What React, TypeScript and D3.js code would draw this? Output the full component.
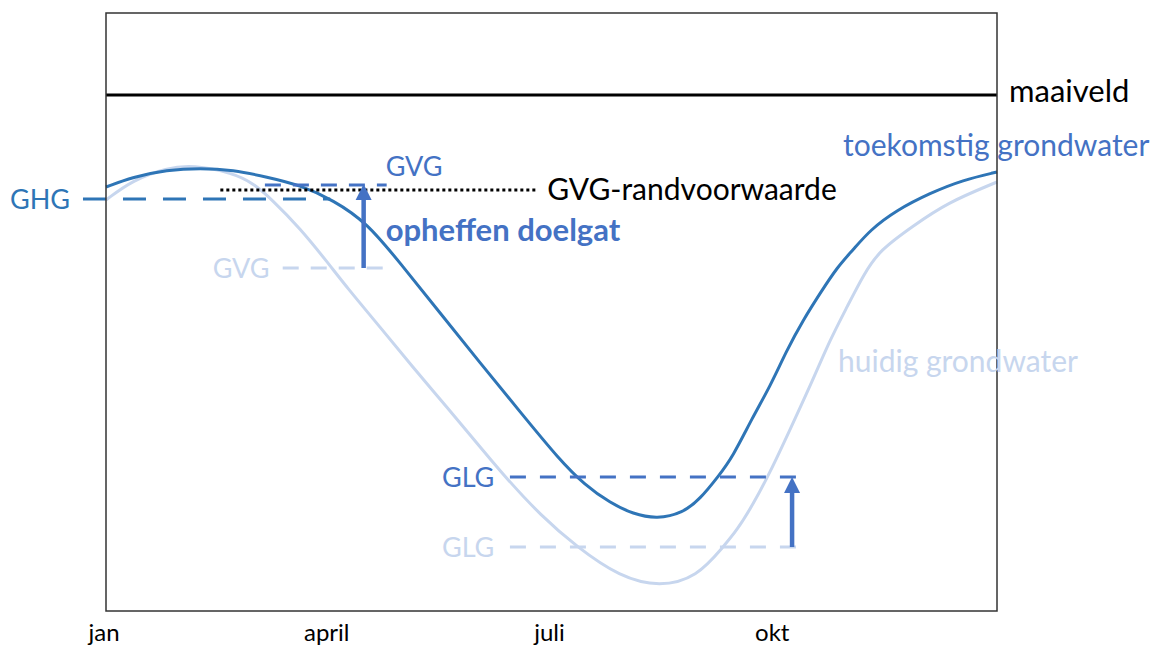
import React from "react";
import * as d3 from "d3";

// months since 1 jan (0..12); depth below maaiveld in schematic units (0 = maaiveld)
const monthTicks = ["jan", "april", "juli", "okt"];
const monthTickValues = [0, 3, 6, 9];

const futureMonths = [0, 0.36, 0.82, 1.27, 1.71, 2.17, 2.61, 3.06, 3.52, 3.96, 4.5, 5.04, 5.58, 6.11, 6.45, 6.79, 7.1, 7.42, 7.77, 8.0, 8.24, 8.44, 8.71, 8.94, 9.17, 9.39, 9.62, 9.85, 10.06, 10.29, 10.65, 11.1, 11.54, 12];
const futureDepth = [46, 41, 37.5, 36.5, 37.5, 41, 45, 52.5, 64, 84, 109, 134, 158.5, 182.5, 195, 204, 209.5, 212, 209, 202, 191, 181, 161, 146, 127.5, 112.5, 99, 86, 77.5, 67.5, 57.5, 49, 42.5, 38.5];

const currentMonths = [0, 0.36, 0.82, 1.17, 1.71, 1.98, 2.24, 2.61, 2.98, 3.25, 3.69, 4.13, 4.59, 5.04, 5.4, 5.85, 6.34, 6.92, 7.46, 7.96, 8.31, 8.5, 8.71, 8.94, 9.21, 9.52, 9.75, 9.98, 10.2, 10.42, 10.87, 11.32, 12];
const currentDepth = [52.5, 42.5, 36.5, 35, 39, 44, 52.5, 66.5, 83.5, 96.5, 116, 136, 156, 176, 192, 210, 226, 241, 246, 241, 226, 217.5, 205, 189, 167.5, 142.5, 122.5, 106, 90, 77.5, 65.5, 54, 43.5];

const maaiveldDepth = 0;
const ghg = { depth: 52, from: -0.31, to: 3.02 };
const gvgFuture = { depth: 45, from: 2.14, to: 3.78 };
const gvgCurrent = { depth: 86.5, from: 2.38, to: 3.78 };
const gvgBoundary = { depth: 47.5, from: 1.54, to: 5.82 };
const glgFuture = { depth: 191, from: 5.44, to: 9.48 };
const glgCurrent = { depth: 226, from: 5.44, to: 9.48 };
const arrowGvgMonth = 3.47;
const arrowGlgMonth = 9.24;

const DARK = "#2E75B6";
const MID = "#4472C4";
const LIGHT = "#C7D6EE";
const FONT = "Lato, 'Open Sans', sans-serif";

type Level = { depth: number; from: number; to: number };

export default function App() {
  const W = 1158, H = 646;
  const x = d3.scaleLinear().domain([0, 12]).range([106, 997]);
  const y = d3.scaleLinear().domain([-41, 258]).range([13, 611]);

  const line = d3
    .line<[number, number]>()
    .x((d) => x(d[0]))
    .y((d) => y(d[1]))
    .curve(d3.curveBasis);

  const future = line(futureMonths.map((m, i) => [m, futureDepth[i]]) as [number, number][]) || "";
  const current = line(currentMonths.map((m, i) => [m, currentDepth[i]]) as [number, number][]) || "";

  const hline = (lv: Level) => ({
    x1: x(lv.from),
    x2: x(lv.to),
    y1: y(lv.depth),
    y2: y(lv.depth),
  });

  const arrow = (m: number, fromDepth: number, toDepth: number, color: string) => {
    const ax = x(m);
    const y0 = y(fromDepth);
    const yt = y(toDepth);
    const headH = 16;
    const headW = 8;
    return (
      <g>
        <line x1={ax} x2={ax} y1={y0} y2={yt + headH - 1} stroke={color} strokeWidth={4.5} />
        <path d={`M${ax},${yt} L${ax - headW},${yt + headH} L${ax + headW},${yt + headH} Z`} fill={color} />
      </g>
    );
  };

  const capFs = 27;
  const fs = 30;
  const lastFuture = futureDepth[futureDepth.length - 1];

  return (
    <svg
      width={W}
      height={H}
      style={{ position: "absolute", left: 0, top: 0, background: "#fff" }}
      fontFamily={FONT}
    >
      <rect x={0} y={0} width={W} height={H} fill="#fff" />
      {/* curves */}
      <path d={current} fill="none" stroke={LIGHT} strokeWidth={3} />
      <path d={future} fill="none" stroke={DARK} strokeWidth={3} />

      {/* level lines */}
      <line {...hline(ghg)} stroke={DARK} strokeWidth={3} strokeDasharray="23 17" />
      <line {...hline(gvgCurrent)} stroke={LIGHT} strokeWidth={3} strokeDasharray="16 12" />
      <line {...hline(gvgFuture)} stroke={MID} strokeWidth={3} strokeDasharray="16 12" />
      <line {...hline(gvgBoundary)} stroke="#000" strokeWidth={3} strokeDasharray="3 3" />
      <line {...hline(glgCurrent)} stroke={LIGHT} strokeWidth={3} strokeDasharray="16 14" />
      <line {...hline(glgFuture)} stroke={MID} strokeWidth={3} strokeDasharray="16 14" />

      {/* arrows */}
      {arrow(arrowGvgMonth, gvgCurrent.depth, gvgFuture.depth - 0.5, MID)}
      {arrow(arrowGlgMonth, glgCurrent.depth, glgFuture.depth, MID)}

      {/* maaiveld */}
      <line x1={x(0)} x2={x(12)} y1={y(maaiveldDepth)} y2={y(maaiveldDepth)} stroke="#000" strokeWidth={3} />

      {/* frame */}
      <rect x={x(0)} y={y(-41)} width={x(12) - x(0)} height={y(258) - y(-41)} fill="none" stroke="#333" strokeWidth={1.5} />

      {/* labels */}
      <text x={10} y={y(ghg.depth) + 10} fontSize={capFs} fill={DARK}>GHG</text>
      <text x={x(gvgFuture.to) - 1} y={y(gvgFuture.depth) - 9} fontSize={capFs} fill={MID}>GVG</text>
      <text x={x(gvgCurrent.from) - 70} y={y(gvgCurrent.depth) + 10} fontSize={capFs} fill={LIGHT}>GVG</text>
      <text x={x(gvgBoundary.to) + 9} y={y(gvgBoundary.depth) + 10} fontSize={fs} fill="#000">GVG-randvoorwaarde</text>
      <text x={x(gvgFuture.to) - 1} y={y(gvgFuture.depth) + 56} fontSize={31} fontWeight={700} fill={MID}>opheffen doelgat</text>
      <text x={x(glgFuture.from) - 68} y={y(glgFuture.depth) + 10} fontSize={capFs} fill={MID}>GLG</text>
      <text x={x(glgCurrent.from) - 68} y={y(glgCurrent.depth) + 10} fontSize={capFs} fill={LIGHT}>GLG</text>
      <text x={x(12) + 12} y={y(maaiveldDepth) + 7} fontSize={31} fill="#000">maaiveld</text>
      <text x={843} y={y(lastFuture) - 16} fontSize={fs} fill={MID}>toekomstig grondwater</text>
      <text x={838} y={372} fontSize={fs} fill={LIGHT}>huidig grondwater</text>

      {monthTicks.map((t, i) => (
        <text key={t} x={x(monthTickValues[i]) - 2} y={641} fontSize={24} textAnchor="middle" fill="#000">
          {t}
        </text>
      ))}
    </svg>
  );
}
